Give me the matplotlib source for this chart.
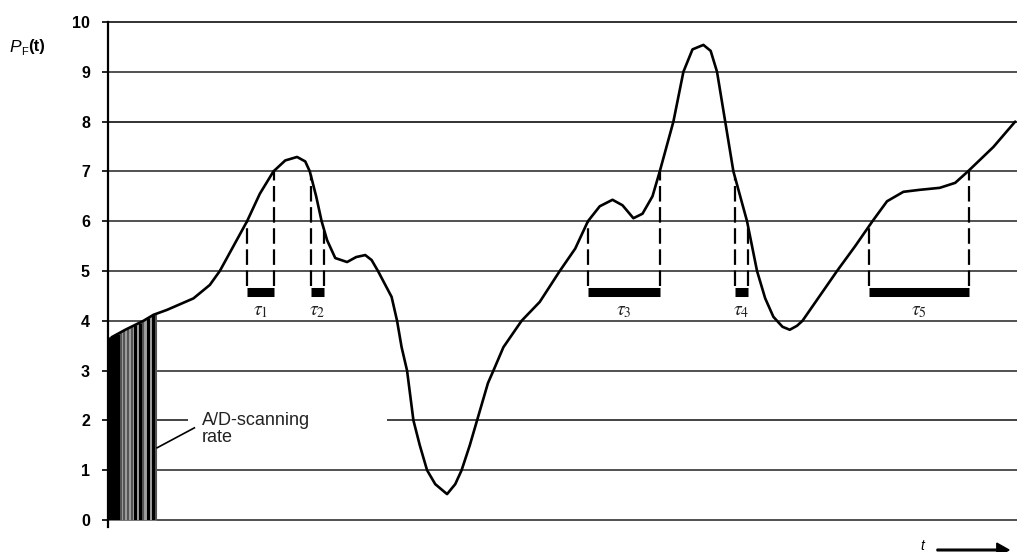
import numpy as np
import matplotlib
matplotlib.use("Agg")
import matplotlib.pyplot as plt

plt.rcParams["font.family"] = ["Liberation Sans", "DejaVu Sans"]
plt.rcParams["mathtext.fontset"] = "stix"

# Signal P_F(t), arbitrary time units 0..100
t = [0.4, 1.9, 3.9, 5.0, 6.5, 9.4, 11.2, 12.3, 13.8, 15.3, 16.7, 18.2, 19.5,
     20.8, 21.7, 22.2, 22.9, 23.5, 24.1, 25.0, 26.3, 27.3, 28.3, 29.0, 29.7,
     31.2, 31.8, 32.3, 32.9, 33.6, 34.3, 35.1, 36.0, 37.3, 38.2, 38.9, 39.8,
     40.6, 41.8, 42.4, 43.5, 45.5, 47.5, 49.7, 51.4, 52.8, 54.1, 55.5, 56.6,
     57.8, 58.8, 59.9, 60.7, 62.2, 63.3, 64.3, 65.5, 66.3, 67.0, 67.9, 68.8,
     70.3, 71.4, 72.3, 73.2, 74.2, 75.0, 75.8, 76.4, 78.3, 80.2, 82.2, 84.1,
     85.7, 87.5, 89.3, 91.5, 93.2, 94.6, 97.4, 99.8]
p = [3.67, 3.82, 4.00, 4.12, 4.22, 4.45, 4.72, 5.00, 5.50, 6.00, 6.55, 7.00,
     7.22, 7.29, 7.20, 7.00, 6.50, 6.00, 5.62, 5.26, 5.18, 5.28, 5.32, 5.22,
     5.00, 4.48, 4.00, 3.47, 3.00, 2.00, 1.50, 1.00, 0.72, 0.52, 0.72, 1.00,
     1.50, 2.00, 2.75, 3.00, 3.47, 4.00, 4.38, 5.00, 5.45, 6.00, 6.30, 6.43,
     6.32, 6.06, 6.15, 6.50, 7.00, 8.00, 9.00, 9.45, 9.54, 9.42, 9.00, 8.00,
     7.00, 6.00, 5.00, 4.45, 4.08, 3.88, 3.82, 3.90, 4.00, 4.50, 5.00, 5.50,
     6.00, 6.40, 6.59, 6.63, 6.67, 6.77, 7.00, 7.49, 8.00]

# A/D samples at the start of the record
scan_dark = [0.1, 0.3, 0.5, 0.7, 0.9, 1.1, 3.0, 3.5, 4.4, 5.0]
scan_light = [1.4, 1.8, 2.2, 2.6, 3.9, 5.3]

# Rise/fall windows between the 6 and 7 thresholds
tau_start = [15.3, 22.3, 52.8, 69.0, 83.7]
tau_end = [18.3, 23.8, 60.7, 70.4, 94.7]
tau_labels = [r"$\tau_1$", r"$\tau_2$", r"$\tau_3$", r"$\tau_4$", r"$\tau_5$"]
levels = list(range(0, 11))

BAR_Y = 4.58
BAR_TOP = 4.69

fig = plt.figure(figsize=(10.17, 5.52), dpi=100)
ax = fig.add_axes([108 / 1017, 32 / 552, 909 / 1017, 498 / 552])
ax.set_xlim(0, 100)
ax.set_ylim(0, 10)

# horizontal rulings; the 2-line is interrupted by the annotation
for lv in levels:
    if lv == 2:
        ax.hlines(lv, 0, 8.8, color="#222222", lw=1.2, zorder=1)
        ax.hlines(lv, 30.7, 100, color="#222222", lw=1.2, zorder=1)
    else:
        ax.hlines(lv, 0, 100, color="#222222", lw=1.3 if lv in (8, 10) else 1.1,
                  zorder=1, clip_on=False)

# sampling strokes under the curve
x_fill = np.linspace(0.0, 5.3, 30)
ax.fill_between(x_fill, 0, np.interp(x_fill, t, p, left=p[0]), color="#a0a0a0",
                lw=0, zorder=2)
ax.vlines(scan_light, 0, np.interp(scan_light, t, p), color="#555555", lw=1.5,
          zorder=3)
ax.vlines(scan_dark, 0, np.interp(scan_dark, t, p, left=p[0]), color="black",
          lw=2.2, zorder=3)

# the signal itself
ax.plot(t, p, color="black", lw=1.9, solid_joinstyle="round",
        solid_capstyle="round", zorder=5)

# dashed verticals + duration bars
for t0, t1, lab in zip(tau_start, tau_end, tau_labels):
    for tx in (t0, t1):
        ax.vlines(tx, BAR_TOP, np.interp(tx, t, p), color="black", lw=1.6,
                  linestyles=(0, (7, 2.5)), zorder=4)
    ax.hlines(BAR_Y, t0, t1, color="black", lw=6.5, capstyle="butt", zorder=4)
    ax.text((t0 + t1) / 2, BAR_Y - 0.22, lab, ha="center", va="top", fontsize=14,
            color="#222222")

# axis styling
for side in ("top", "right", "bottom"):
    ax.spines[side].set_visible(False)
ax.spines["left"].set_linewidth(1.6)
ax.spines["left"].set_bounds(-0.15, 10)
ax.set_xticks([])
ax.set_yticks(levels)
ax.tick_params(axis="y", length=4, width=1.2, pad=9, labelsize=11.5)
for lbl in ax.get_yticklabels():
    lbl.set_fontweight("bold")

# y label P_F(t)
fig.text(9 / 1017, 1 - 47 / 552, "P", fontsize=12.5, style="italic",
         ha="left", va="center")
fig.text(21 / 1017, 1 - 52 / 552, "F", fontsize=8, ha="left", va="center")
fig.text(28 / 1017, 1 - 47 / 552, "(t)", fontsize=12, fontweight="bold",
         ha="left", va="center")

# annotation for the A/D sampling
ax.text(10.3, 2.0, "A/D-scanning", fontsize=13, color="#222222",
        ha="left", va="center")
ax.text(10.3, 1.66, "rate", fontsize=13, color="#222222",
        ha="left", va="center")
ax.plot([5.4, 9.5], [1.45, 1.85], color="black", lw=1.2, zorder=4)

# time arrow in the bottom-right corner
fig.text(922 / 1017, 1 - 546 / 552, "t", fontsize=10, style="italic",
         ha="center", va="center")
fig.patches.append(matplotlib.patches.FancyArrow(
    937 / 1017, 1 - 550 / 552, 72 / 1017, 0, width=0.003, head_width=0.025,
    head_length=0.012, length_includes_head=True, color="black",
    transform=fig.transFigure, figure=fig))

fig.savefig("out.png", dpi=100)
